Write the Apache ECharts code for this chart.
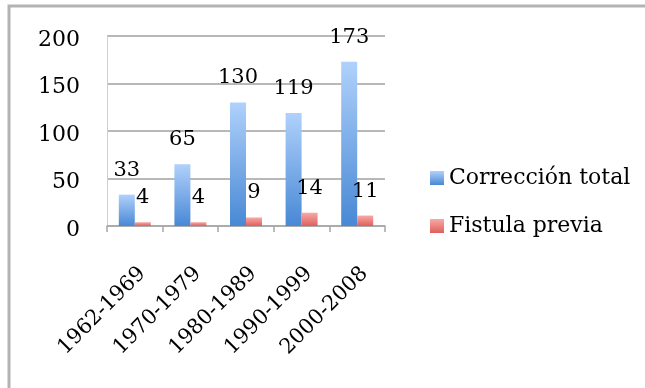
<!DOCTYPE html>
<html>
<head>
<meta charset="utf-8">
<script src="https://cdn.jsdelivr.net/npm/echarts@6/dist/echarts.min.js"></script>
<style>
html,body{margin:0;padding:0;background:#fff;}
#main{width:645px;height:388px;}
</style>
</head>
<body>
<div id="main"></div>
<script>
var categories = ['1962-1969', '1970-1979', '1980-1989', '1990-1999', '2000-2008'];
var correccionTotal = [33, 65, 130, 119, 173];
var fistulaPrevia = [4, 4, 9, 14, 11];
var seriesNames = ['Corrección total', 'Fistula previa'];

var font = '"DejaVu Serif", "Liberation Serif", serif';
var myChart = echarts.init(document.getElementById('main'));

function grad(top, bottom) {
  return new echarts.graphic.LinearGradient(0, 0, 0, 1, [
    {offset: 0, color: top},
    {offset: 1, color: bottom}
  ]);
}

var option = {
  animation: false,
  backgroundColor: '#fff',
  graphic: [
    {type: 'rect', shape: {x: 9, y: 6, width: 700, height: 450},
     style: {fill: 'none', stroke: '#b3b3b3', lineWidth: 3}}
  ],
  grid: {left: 107, top: 36, right: 260, bottom: 162},
  legend: {
    orient: 'vertical',
    left: 425,
    top: 162,
    itemWidth: 14,
    itemHeight: 14,
    itemGap: 26,
    icon: 'rect',
    textStyle: {fontFamily: font, fontSize: 22, color: '#000'},
    data: seriesNames
  },
  xAxis: {
    type: 'category',
    data: categories,
    axisLine: {lineStyle: {color: '#a6a6a6', width: 1.5}},
    axisTick: {show: true, length: 6, lineStyle: {color: '#a6a6a6', width: 1.5}},
    axisLabel: {
      rotate: 45, margin: 37, verticalAlign: 'top',
      fontFamily: font, fontSize: 21, color: '#000'
    }
  },
  yAxis: {
    type: 'value',
    min: 0,
    max: 200,
    interval: 50,
    axisLine: {show: true, lineStyle: {color: '#d0d0d0', width: 1}},
    axisTick: {show: false},
    splitLine: {lineStyle: {color: '#a0a0a0', width: 1.5}},
    axisLabel: {
      margin: 27, color: '#000',
      formatter: function (v) { return '{a|' + v + '}'; },
      rich: {a: {fontFamily: font, fontSize: 22, color: '#000', padding: [8, 0, 0, 0]}}
    }
  },
  series: [
    {
      name: seriesNames[0],
      type: 'bar',
      data: correccionTotal,
      barWidth: 16,
      barGap: '0%',
      itemStyle: {color: grad('#b0d1fb', '#4888d5')},
      label: {show: true, position: 'top', distance: 14, fontFamily: font, fontSize: 21, color: '#000'}
    },
    {
      name: seriesNames[1],
      type: 'bar',
      data: fistulaPrevia,
      barWidth: 16,
      barGap: '0%',
      itemStyle: {color: grad('#f7aaa7', '#df5f5b')},
      label: {show: true, position: 'top', distance: 14, fontFamily: font, fontSize: 21, color: '#000'}
    }
  ]
};
myChart.setOption(option);
</script>
</body>
</html>
